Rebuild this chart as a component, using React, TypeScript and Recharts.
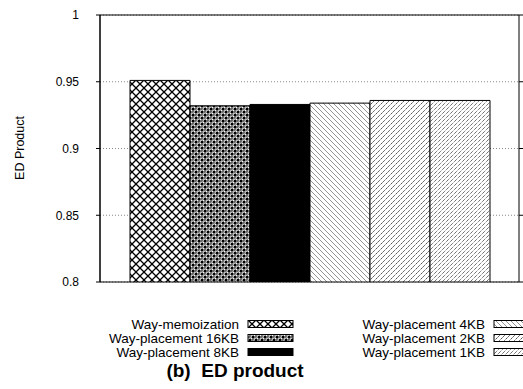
import React from 'react'
import { BarChart, Bar, XAxis, YAxis, CartesianGrid, ReferenceArea, ReferenceLine } from 'recharts'

const categories = ['ED product']
const seriesKeys = ['memo', 'p16', 'p8', 'p4', 'p2', 'p1']
const seriesNames = [
  'Way-memoization',
  'Way-placement 16KB',
  'Way-placement 8KB',
  'Way-placement 4KB',
  'Way-placement 2KB',
  'Way-placement 1KB',
]
const edValues = [0.951, 0.932, 0.933, 0.934, 0.936, 0.936]
const yTicks = [0.8, 0.85, 0.9, 0.95, 1]

const fills = ['url(#pCross)', 'url(#pDense)', '#000', 'url(#pBack)', 'url(#pFwd)', 'url(#pDots)']
const font = '"Liberation Sans", Arial, Helvetica, sans-serif'

const data = categories.map((name) => {
  const row: Record<string, any> = { name }
  seriesKeys.forEach((k, i) => { row[k] = edValues[i] })
  return row
})

function Patterns() {
  return (
    <defs>
      <pattern id="pCross" patternUnits="userSpaceOnUse" width="8" height="8">
        <rect width="8" height="8" fill="#fff" />
        <path d="M0,0 L8,8 M8,0 L0,8" stroke="#000" strokeWidth="1.3" />
      </pattern>
      <pattern id="pDense" patternUnits="userSpaceOnUse" width="6" height="6">
        <rect width="6" height="6" fill="#fff" />
        <rect x="0" y="0" width="2.5" height="2.5" fill="#000" />
        <rect x="3" y="3" width="2.5" height="2.5" fill="#000" />
        <circle cx="4.2" cy="1.2" r="1.1" fill="none" stroke="#222" strokeWidth="0.9" />
        <circle cx="1.2" cy="4.2" r="1.1" fill="none" stroke="#222" strokeWidth="0.9" />
      </pattern>
      <pattern id="pBack" patternUnits="userSpaceOnUse" width="5" height="5">
        <rect width="5" height="5" fill="#fff" />
        <path d="M-1,-1 L6,6 M-1,4 L1,6 M4,-1 L6,1" stroke="#777" strokeWidth="0.8" />
      </pattern>
      <pattern id="pFwd" patternUnits="userSpaceOnUse" width="5" height="5">
        <rect width="5" height="5" fill="#fff" />
        <path d="M-1,6 L6,-1 M-1,1 L1,-1 M4,6 L6,4" stroke="#222" strokeWidth="0.9" strokeDasharray="2 1" />
      </pattern>
      <pattern id="pDots" patternUnits="userSpaceOnUse" width="4" height="4">
        <rect width="4" height="4" fill="#fff" />
        <path d="M-1,5 L5,-1" stroke="#333" strokeWidth="1" strokeDasharray="1 1" />
      </pattern>
    </defs>
  )
}

function LegendBlock() {
  const rowY = [324, 338, 352]
  const cols = [{ textEnd: 239, swatch: 248 }, { textEnd: 485, swatch: 494 }]
  return (
    <svg width={523} height={389} style={{ position: 'absolute', left: 0, top: 0, pointerEvents: 'none' }}>
      <Patterns />
      {seriesNames.map((name, i) => {
        const col = cols[Math.floor(i / 3)]
        const y = rowY[i % 3]
        return (
          <g key={name}>
            <text x={col.textEnd} y={y} textAnchor="end" dominantBaseline="central"
              fontFamily={font} fontSize={13.5} fill="#000">{name}</text>
            <rect x={col.swatch} y={y - 3.5} width={45} height={7} fill={fills[i]} stroke="#000" strokeWidth={1} />
          </g>
        )
      })}
      <text x={235} y={370} textAnchor="middle" dominantBaseline="central"
        fontFamily={font} fontSize={19} fontWeight="bold" fill="#000" style={{ whiteSpace: 'pre' }}>
        {'(b)  ED product'}
      </text>
    </svg>
  )
}

const rightTick = (p: any) => (
  <line x1={p.x2} y1={p.y2} x2={p.x2 + 4} y2={p.y2} stroke="#000" strokeWidth={1} />
)

export default function App() {
  return (
    <div style={{ position: 'absolute', left: 0, top: 0, width: 523, height: 389, background: '#fff' }}>
      <BarChart width={523} height={389} data={data} barCategoryGap={30} barGap={0}
        margin={{ top: 15, right: 4, bottom: 107, left: 0 }} style={{ fontFamily: font }}>
        <CartesianGrid vertical={false} stroke="#888" strokeDasharray="1 2" />
        <XAxis dataKey="name" height={0} tick={false} tickLine={false} axisLine={{ stroke: '#000' }} />
        <YAxis domain={[0.8, 1]} ticks={yTicks} allowDataOverflow width={100}
          tick={{ fill: '#000', fontSize: 12 }} tickSize={4} tickMargin={17}
          tickLine={{ stroke: '#000' }} axisLine={{ stroke: '#000' }}
          tickFormatter={(v: number) => String(v)}
          label={{
            content: () => (
              <text x={20} y={148} transform="rotate(-90 20 148)" textAnchor="middle"
                dominantBaseline="central" fontFamily={font} fontSize={12.5} fill="#000">ED Product</text>
            ),
          }} />
        {seriesKeys.map((k, i) => (
          <Bar key={k} dataKey={k} name={seriesNames[i]} fill={fills[i]} stroke="#000" strokeWidth={1}
            isAnimationActive={false} />
        ))}
        <ReferenceArea y1={0.8} y2={1} fill="none" stroke="#000" strokeWidth={1} fillOpacity={0} />
        {yTicks.map((t) => (
          <ReferenceLine key={t} y={t} stroke="none" shape={rightTick} />
        ))}
      </BarChart>
      <LegendBlock />
    </div>
  )
}
